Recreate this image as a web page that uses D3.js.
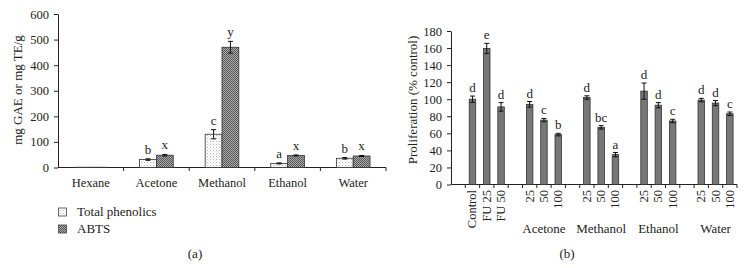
<!DOCTYPE html>
<html><head><meta charset="utf-8">
<script src="https://cdn.jsdelivr.net/npm/d3@7"></script>
<style>
body{margin:0;background:#fff;}
svg{display:block;font-family:"Liberation Serif","Times New Roman",serif;}
</style></head>
<body><svg id="c" width="746" height="268"></svg>
<script>
// ---- Panel (a) data ----
const solventsA = ["Hexane","Acetone","Methanol","Ethanol","Water"];
const seriesA = ["Total phenolics","ABTS"];
const phenolics = [1, 31, 130, 16, 36];
const phenolicsErr = [0.5, 3, 18, 2, 3];
const abts = [1, 48, 470, 47, 45];
const abtsErr = [0.5, 3, 23, 2, 2];
const lettersPhen = ["", "b", "c", "a", "b"];
const lettersAbts = ["", "x", "y", "x", "x"];
const ticksA = [0,100,200,300,400,500,600];

// ---- Panel (b) data ----
const slotsB = ["_0","Control","FU 25","FU 50","_1","A25","A50","A100","_2","M25","M50","M100","_3","E25","E50","E100","_4","W25","W50","W100"];
const labelsB = {"Control":"Control","FU 25":"FU 25","FU 50":"FU 50","A25":"25","A50":"50","A100":"100","M25":"25","M50":"50","M100":"100","E25":"25","E50":"50","E100":"100","W25":"25","W50":"50","W100":"100"};
const barsB = ["Control","FU 25","FU 50","A25","A50","A100","M25","M50","M100","E25","E50","E100","W25","W50","W100"];
const prolif = [100, 159.5, 91, 94, 75.5, 58.5, 102, 67, 35, 109.5, 93, 74.5, 99, 95.5, 83];
const prolifErr = [3.7, 6, 5, 3.3, 2, 1.5, 2, 2, 2.5, 9.5, 3, 2, 2, 3, 2];
const lettersB = ["d","e","d","d","c","b","d","bc","a","d","d","c","d","d","c"];
const groupsB = [["Acetone","A50"],["Methanol","M50"],["Ethanol","E50"],["Water","W50"]];
const ticksB = [0,20,40,60,80,100,120,140,160,180];

const svg = d3.select("#c");
const defs = svg.append("defs");
// stipple pattern for Total phenolics
const p1 = defs.append("pattern").attr("id","dots").attr("patternUnits","userSpaceOnUse").attr("width",3).attr("height",3);
p1.append("rect").attr("width",3).attr("height",3).attr("fill","#fbfbfb");
p1.append("rect").attr("x",0).attr("y",0).attr("width",1).attr("height",1).attr("fill","#b8b8b8");
p1.append("rect").attr("x",1.5).attr("y",1.5).attr("width",0.8).attr("height",0.8).attr("fill","#d0d0d0");
// crosshatch pattern for ABTS
const p2 = defs.append("pattern").attr("id","hatch").attr("patternUnits","userSpaceOnUse").attr("width",2).attr("height",2);
p2.append("rect").attr("width",2).attr("height",2).attr("fill","#a8a8a8");
p2.append("rect").attr("x",0).attr("y",0).attr("width",1).attr("height",1).attr("fill","#5a5a5a");
p2.append("rect").attr("x",1).attr("y",1).attr("width",1).attr("height",1).attr("fill","#5a5a5a");

const axisCol = "#222";

// ===== Panel (a) =====
const gA = svg.append("g");
const xA = d3.scaleBand().domain(solventsA).range([58,386]);
const yA = d3.scaleLinear().domain([0,600]).range([167.5,14]);
const xInner = d3.scaleBand().domain(seriesA).range([0, xA.bandwidth()]).paddingInner(0).paddingOuter(0.95);

gA.append("g").attr("transform","translate(58,0)")
  .call(d3.axisLeft(yA).tickValues(ticksA).tickSize(4).tickSizeOuter(0))
  .call(g=>{g.select(".domain").attr("stroke",axisCol);g.selectAll("line").attr("stroke",axisCol);
    g.selectAll("text").attr("font-size",12.5).attr("fill","#222").attr("font-family","Liberation Serif").attr("dx",-2);});

// x axis (a)
const xAx = gA.append("g").attr("transform","translate(0,167.5)");
xAx.append("line").attr("x1",58).attr("x2",386).attr("stroke",axisCol);
const bndA = solventsA.map(d=>xA(d)).concat([386]);
xAx.selectAll("line.tk").data(bndA.slice(1)).join("line").attr("class","tk")
  .attr("x1",d=>d).attr("x2",d=>d).attr("y1",0).attr("y2",3.5).attr("stroke",axisCol);
xAx.selectAll("text").data(solventsA).join("text")
  .attr("x",d=>xA(d)+xA.bandwidth()/2).attr("y",19).attr("text-anchor","middle")
  .attr("font-size",12.5).attr("fill","#222").text(d=>d);

function drawPairs(vals, errs, letters, key, fill){
  solventsA.forEach((s,i)=>{
    const x0 = xA(s)+xInner(key), w = xInner.bandwidth();
    const yt = yA(vals[i]);
    gA.append("rect").attr("x",x0).attr("y",yt).attr("width",w).attr("height",yA(0)-yt)
      .attr("fill",fill).attr("stroke","#333").attr("stroke-width",0.8);
    const cx = x0+w/2, e1 = yA(vals[i]+errs[i]), e2 = yA(Math.max(0,vals[i]-errs[i]));
    if (errs[i] > 1) {
      gA.append("line").attr("x1",cx).attr("x2",cx).attr("y1",e1).attr("y2",e2).attr("stroke","#111").attr("stroke-width",1);
      gA.append("line").attr("x1",cx-2.5).attr("x2",cx+2.5).attr("y1",e1).attr("y2",e1).attr("stroke","#111").attr("stroke-width",1);
      gA.append("line").attr("x1",cx-2.5).attr("x2",cx+2.5).attr("y1",e2).attr("y2",e2).attr("stroke","#111").attr("stroke-width",1);
    }
    if (letters[i]) gA.append("text").attr("x",cx).attr("y",e1-5).attr("text-anchor","middle")
      .attr("font-size",13).attr("fill","#222").text(letters[i]);
  });
}
drawPairs(phenolics, phenolicsErr, lettersPhen, "Total phenolics", "url(#dots)");
drawPairs(abts, abtsErr, lettersAbts, "ABTS", "url(#hatch)");

gA.append("text").attr("transform","translate(22,90) rotate(-90)").attr("text-anchor","middle")
  .attr("font-size",13).attr("fill","#222").text("mg GAE or mg TE/g");

// legend (a)
const legA = gA.append("g");
[["Total phenolics","url(#dots)",208],["ABTS","url(#hatch)",225]].forEach(([t,f,y])=>{
  legA.append("rect").attr("x",58.5).attr("y",y).attr("width",8).attr("height",8).attr("fill",f).attr("stroke","#444").attr("stroke-width",0.8);
  legA.append("text").attr("x",77).attr("y",y+8).attr("font-size",13).attr("fill","#222").text(t);
});
gA.append("text").attr("x",195).attr("y",258).attr("text-anchor","middle").attr("font-size",13).attr("fill","#222").text("(a)");

// ===== Panel (b) =====
const gB = svg.append("g");
const xB = d3.scaleBand().domain(slotsB).range([451,737]);
const yB = d3.scaleLinear().domain([0,180]).range([184.5,31]);
gB.append("g").attr("transform","translate(451,0)")
  .call(d3.axisLeft(yB).tickValues(ticksB).tickSize(4).tickSizeOuter(0))
  .call(g=>{g.select(".domain").attr("stroke",axisCol);g.selectAll("line").attr("stroke",axisCol);
    g.selectAll("text").attr("font-size",12.5).attr("fill","#222").attr("font-family","Liberation Serif").attr("dx",-2);});
const xBx = gB.append("g").attr("transform","translate(0,184.5)");
xBx.append("line").attr("x1",451).attr("x2",737).attr("stroke",axisCol);
xBx.selectAll("line.tk").data(slotsB.map(d=>xB(d)).slice(1).concat([737])).join("line").attr("class","tk")
  .attr("x1",d=>d).attr("x2",d=>d).attr("y1",0).attr("y2",3.5).attr("stroke",axisCol);

const bw = 6.5;
barsB.forEach((k,i)=>{
  const cx = xB(k)+xB.bandwidth()/2;
  const yt = yB(prolif[i]);
  gB.append("rect").attr("x",cx-bw/2).attr("y",yt).attr("width",bw).attr("height",yB(0)-yt)
    .attr("fill","#777").attr("stroke","#333").attr("stroke-width",0.8);
  const e1 = yB(prolif[i]+prolifErr[i]), e2 = yB(prolif[i]-prolifErr[i]);
  gB.append("line").attr("x1",cx).attr("x2",cx).attr("y1",e1).attr("y2",e2).attr("stroke","#111");
  gB.append("line").attr("x1",cx-2.5).attr("x2",cx+2.5).attr("y1",e1).attr("y2",e1).attr("stroke","#111");
  gB.append("line").attr("x1",cx-2.5).attr("x2",cx+2.5).attr("y1",e2).attr("y2",e2).attr("stroke","#111");
  gB.append("text").attr("x",cx).attr("y",e1-4).attr("text-anchor","middle")
    .attr("font-size",13).attr("fill","#222").text(lettersB[i]);
  gB.append("text").attr("transform",`translate(${cx+4},190) rotate(-90)`).attr("text-anchor","end")
    .attr("font-size",12.5).attr("fill","#222").text(labelsB[k]);
});
groupsB.forEach(([name,k])=>{
  gB.append("text").attr("x",xB(k)+xB.bandwidth()/2).attr("y",233).attr("text-anchor","middle")
    .attr("font-size",13).attr("fill","#222").text(name);
});
gB.append("text").attr("transform","translate(417,100) rotate(-90)").attr("text-anchor","middle")
  .attr("font-size",13).attr("fill","#222").text("Proliferation (% control)");
gB.append("text").attr("x",567).attr("y",258).attr("text-anchor","middle").attr("font-size",13).attr("fill","#222").text("(b)");
</script></body></html>
